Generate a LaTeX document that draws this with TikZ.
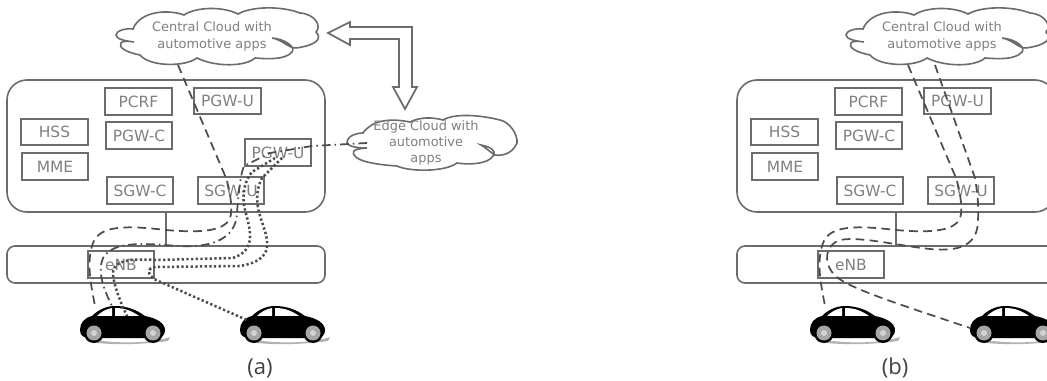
\documentclass[tikz,border=0pt]{standalone}
\usepackage{fontspec}
\usepackage{tikz}
\usetikzlibrary{arrows.meta,positioning,shapes}
\setmainfont{DejaVu Sans}
\newfontfamily\capfont{Open Sans}
\definecolor{boxgray}{rgb}{0.42,0.42,0.42}
\definecolor{textgray}{rgb}{0.50,0.50,0.50}
\definecolor{linkgray}{rgb}{0.30,0.30,0.30}
\tikzset{
  unitbox/.style={draw=boxgray,line width=1.4pt,minimum width=50pt,minimum height=20pt,inner sep=0pt,font=\fontsize{11.6}{13}\selectfont,text=textgray},
  cloudtext/.style={align=center,font=\fontsize{9.7}{12.8}\selectfont,text=textgray,inner sep=0pt},
  cloudline/.style={draw=boxgray,line width=1.2pt,fill=white},
  panelbox/.style={draw=boxgray,line width=1.2pt,rounded corners=#1},
  dashlink/.style={draw=linkgray,line width=1.3pt,dash pattern=on 6.5pt off 4pt},
  dotlink/.style={draw=linkgray,line width=1.9pt,dash pattern=on 1.7pt off 1.8pt},
  dashdotlink/.style={draw=linkgray,line width=1.3pt,dash pattern=on 6.5pt off 3pt on 1.2pt off 3pt},
  car/.pic={
    \fill[gray!60] (5,32) .. controls (30,38) and (70,38) .. (90,31) -- (88,35) .. controls (60,39) and (30,39) .. (8,36) -- cycle;
    \fill[black] (0,24) .. controls (0,17) and (4,12) .. (12,10) .. controls (18,4) and (26,0) .. (35,0)
      .. controls (47,0) and (57,4) .. (65,10) .. controls (76,12) and (85,17) .. (85,24)
      .. controls (85,29) and (82,32) .. (76,32) -- (10,32) .. controls (4,32) and (0,30) .. (0,24) -- cycle;
    \fill[white] (17,10) .. controls (21,6) and (26,3) .. (32,2) -- (32,10) -- cycle;
    \fill[white] (35,2) .. controls (45,2) and (52,5) .. (59,10) -- (35,10) -- cycle;
    \foreach \wx in {14,73} {
      \fill[black] (\wx,27) circle (10);
      \fill[gray!70] (\wx,27) circle (7.5);
      \fill[gray!35] (\wx,27) circle (3);
    }
  }
}
\begin{document}
\begin{tikzpicture}[x=0.75pt,y=-0.75pt]
\useasboundingbox (0,0) rectangle (1047,381);
\clip (0,0) rectangle (1047,381);
\foreach \p/\dx/\capx/\capname in {a/0/260/(a),b/730/165/(b)} {
\begin{scope}[xshift=\dx*0.75pt]
% cars first, links run over them
\pic at (80,306) {car};
\pic at (240,306) {car};
\draw[panelbox=15pt] (7,80) rectangle (325,212);
\draw[panelbox=6pt] (7,246) rectangle (325,283);
\node[unitbox] (pcrf\p) at (138.5,101.5) {PCRF};
\node[unitbox] (pgwu\p) at (227.5,101) {PGW-U};
\node[unitbox] (hss\p) at (54.5,132) {HSS};
\node[unitbox] (mme\p) at (55,166.5) {MME};
\node[unitbox] (pgwc\p) at (139,135.5) {PGW-C};
\node[unitbox] (sgwc\p) at (140,190.5) {SGW-C};
\node[unitbox] (sgwu\p) at (231,190.5) {SGW-U};
\node[unitbox] (enb\p) at (121,264.5) {eNB};
\coordinate (coreb\p) at (166,212);
\coordinate (barb\p) at (166,246);
\draw[boxgray,line width=1.7pt] (coreb\p) -- (barb\p);
% central cloud
\draw[cloudline] (133,29) .. controls (140,11) and (168,9) .. (184,15)
  .. controls (196,7) and (222,6) .. (238,14)
  .. controls (252,6) and (282,6) .. (300,13)
  .. controls (315,14) and (322,26) .. (316,32)
  .. controls (322,38) and (318,45) .. (296,48)
  .. controls (288,48) and (283,40) .. (272,38)
  .. controls (285,39) and (296,47) .. (292,52)
  .. controls (285,60) and (268,59) .. (255,58)
  .. controls (245,67) and (215,67) .. (197,58)
  .. controls (185,67) and (150,67) .. (140,55)
  .. controls (125,52) and (118,47) .. (121,43)
  .. controls (122,41) and (128,41) .. (134,42)
  .. controls (125,41) and (116,39) .. (116,35)
  .. controls (116,31) and (125,28) .. (133,29) -- cycle;
\node[cloudtext] (central\p) at (212,36.5) {Central Cloud with\\automotive apps};
\coordinate (cenleft\p) at (178,65);
\coordinate (carl\p) at (95,306);
\node[font=\capfont\fontsize{16.5}{18}\selectfont,text=black!75,inner sep=0pt] (cap\p) at (\capx,368) {\capname};
\end{scope}
}
\node[unitbox] (pgwx) at (278,152.5) {PGW-U};
% edge cloud
\draw[cloudline] (363,133) .. controls (372,120) and (390,118) .. (410,122)
  .. controls (420,117) and (432,117) .. (443,120)
  .. controls (455,113) and (480,115) .. (500,120)
  .. controls (510,122) and (518,135) .. (517,143)
  .. controls (512,155) and (500,156) .. (495,155)
  .. controls (490,152) and (485,147) .. (481,145)
  .. controls (490,147) and (497,150) .. (493,156)
  .. controls (488,164) and (470,165) .. (457,163)
  .. controls (445,172) and (410,172) .. (397,166)
  .. controls (382,165) and (365,163) .. (357,158)
  .. controls (350,152) and (352,149) .. (367,148)
  .. controls (355,148) and (347,146) .. (347,142)
  .. controls (347,137) and (355,133) .. (363,133) -- cycle;
\node[cloudtext,font=\fontsize{9.7}{12}\selectfont] (edge) at (426,143) {Edge Cloud with\\automotive\\apps};
% double arrow between the clouds
\draw[boxgray,line width=1.3pt,fill=white] (328,33) -- (350,22) -- (350,27) -- (412,27) -- (412,87) -- (417,87)
  -- (405,109) -- (393,87) -- (399,87) -- (399,39) -- (350,39) -- (350,45) -- cycle;
% links of (a)
\coordinate (edgeport) at (367,143);
\coordinate (pgwport) at (244,166);
\coordinate (dotstarta) at (275,158);
\coordinate (dotstartb) at (282,158);
\coordinate (carm) at (112,306);
\coordinate (carn) at (127,316);
\coordinate (farcar) at (247,320);
\draw[dashlink] (cenlefta) -- (226,178) .. controls (230,190) and (232,205) .. (231,214)
  .. controls (229,232) and (200,233) .. (166,230) .. controls (130,226) and (100,224) .. (93,243)
  .. controls (86,262) and (91,285) .. (carla);
\draw[dashdotlink] (edgeport) -- (312,146) -- (270,153) -- (pgwport) .. controls (240,175) and (238,200) .. (237,213)
  .. controls (236,240) and (210,250) .. (166,245) .. controls (135,243) and (112,243) .. (103,258)
  .. controls (97,272) and (104,290) .. (carm);
\draw[dotlink] (dotstarta) -- (252,172) .. controls (245,180) and (241,195) .. (245,210)
  .. controls (251,232) and (256,250) .. (233,258) -- (157,260) .. controls (125,258) and (112,262) .. (113,275)
  .. controls (115,290) and (122,305) .. (carn);
\draw[dotlink] (dotstartb) -- (262,178) .. controls (255,192) and (256,205) .. (262,222)
  .. controls (268,240) and (276,260) .. (240,266) -- (157,267) .. controls (146,267) and (147,275) .. (156,280)
  -- (farcar);
% links of (b)
\coordinate (cenrightb) at (935,65);
\coordinate (carfarb) at (970,328);
\draw[dashlink] (cenleftb) -- (956,178) .. controls (960,190) and (962,205) .. (961,214)
  .. controls (959,232) and (930,233) .. (896,230) .. controls (860,226) and (830,224) .. (823,243)
  .. controls (816,262) and (821,285) .. (carlb);
\draw[dashlink] (cenrightb) -- (975,178) .. controls (977,190) and (979,205) .. (978,220)
  .. controls (978,245) and (960,252) .. (930,249) .. controls (900,246) and (860,236) .. (840,240)
  .. controls (825,245) and (824,262) .. (832,272) .. controls (840,285) and (880,298) .. (carfarb);
\end{tikzpicture}
\end{document}
